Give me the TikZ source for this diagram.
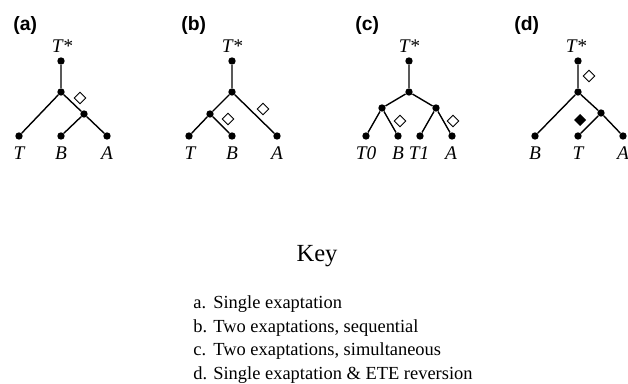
\documentclass[tikz,border=0pt]{standalone}
\usepackage{fontspec}
\setmainfont{Liberation Serif}
\newfontfamily\panelfont{Liberation Sans}
\usetikzlibrary{shapes.geometric}

\tikzset{
  dot/.style={circle,fill=black,inner sep=0pt,minimum size=4.2pt},
  branch/.style={line width=0.8pt},
  gain/.style={diamond,draw,line width=0.5pt,inner sep=0pt,minimum size=6.8pt},
  loss/.style={diamond,fill=black,inner sep=0pt,minimum size=7pt},
  taxon/.style={anchor=base,inner sep=0pt,font=\fontsize{11}{13}\selectfont\itshape},
  panel/.style={anchor=base west,inner sep=0pt,font=\panelfont\bfseries\fontsize{11}{13}\selectfont},
  keyitem/.style={anchor=base west,inner sep=0pt,font=\fontsize{10.5}{12}\selectfont}
}

\begin{document}
\begin{tikzpicture}[x=0.02cm,y=-0.02cm]
    \useasboundingbox (0,0) rectangle (628,384);

    % (a) single exaptation
    \node[panel] (pa) at (13,31) {(a)};
    \node[dot] (a0) at (61,61) {};
    \node[dot] (a1) at (61,92) {};
    \node[dot] (a2) at (84,114) {};
    \node[dot] (aT) at (19,136) {};
    \node[dot] (aB) at (61,136) {};
    \node[dot] (aA) at (107,136) {};
    \draw[branch] (a0)--(a1) (a1)--(aT) (a1)--(a2) (a2)--(aB) (a2)--(aA);
    \node[gain] (ag) at (80,98) {};
    \node[taxon] (aroot) at (62,53) {T*};
    \node[taxon] (aTl) at (19,160) {T};
    \node[taxon] (aBl) at (61,160) {B};
    \node[taxon] (aAl) at (107,160) {A};

    % (b) two exaptations, sequential
    \node[panel] (pb) at (181,31) {(b)};
    \node[dot] (b0) at (232,61) {};
    \node[dot] (b1) at (232,92) {};
    \node[dot] (b2) at (210,114) {};
    \node[dot] (bT) at (189,136) {};
    \node[dot] (bB) at (232,136) {};
    \node[dot] (bA) at (277,136) {};
    \draw[branch] (b0)--(b1) (b1)--(b2) (b1)--(bA) (b2)--(bT) (b2)--(bB);
    \node[gain] (bg1) at (228,119) {};
    \node[gain] (bg2) at (263,109) {};
    \node[taxon] (broot) at (232,53) {T*};
    \node[taxon] (bTl) at (190,160) {T};
    \node[taxon] (bBl) at (232,160) {B};
    \node[taxon] (bAl) at (277,160) {A};

    % (c) two exaptations, simultaneous
    \node[panel] (pc) at (355,31) {(c)};
    \node[dot] (c0) at (409,61) {};
    \node[dot] (c1) at (409,92) {};
    \node[dot] (cL) at (382,108) {};
    \node[dot] (cR) at (436,108) {};
    \node[dot] (cT0) at (366,136) {};
    \node[dot] (cB) at (398,136) {};
    \node[dot] (cT1) at (420,136) {};
    \node[dot] (cA) at (452,136) {};
    \draw[branch] (c0)--(c1) (c1)--(cL) (c1)--(cR)
      (cL)--(cT0) (cL)--(cB) (cR)--(cT1) (cR)--(cA);
    \node[gain] (cg1) at (400,121) {};
    \node[gain] (cg2) at (453,121) {};
    \node[taxon] (croot) at (409,53) {T*};
    \node[taxon] (cT0l) at (366,160) {T0};
    \node[taxon] (cBl) at (398,160) {B};
    \node[taxon] (cT1l) at (419,160) {T1};
    \node[taxon] (cAl) at (451,160) {A};

    % (d) single exaptation & ETE reversion
    \node[panel] (pd) at (514,31) {(d)};
    \node[dot] (d0) at (578,61) {};
    \node[dot] (d1) at (578,92) {};
    \node[dot] (dR) at (601,113) {};
    \node[dot] (dB) at (535,136) {};
    \node[dot] (dT) at (578,136) {};
    \node[dot] (dA) at (623,136) {};
    \draw[branch] (d0)--(d1) (d1)--(dB) (d1)--(dR) (dR)--(dT) (dR)--(dA);
    \node[gain] (dg) at (589,76) {};
    \node[loss] (dl) at (580,120) {};
    \node[taxon] (droot) at (576,53) {T*};
    \node[taxon] (dBl) at (535,160) {B};
    \node[taxon] (dTl) at (578,160) {T};
    \node[taxon] (dAl) at (623,160) {A};

    % key
    \node[anchor=base,inner sep=0pt,font=\fontsize{14}{16}\selectfont] (key) at (317,262) {Key};
    \node[keyitem] (ka) at (193,309) {a.};
    \node[keyitem] (kb) at (193,333) {b.};
    \node[keyitem] (kc) at (193,356) {c.};
    \node[keyitem] (kd) at (193,379) {d.};
    \node[keyitem] (ta) at (213,309) {Single exaptation};
    \node[keyitem] (tb) at (213,333) {Two exaptations, sequential};
    \node[keyitem] (tc) at (213,356) {Two exaptations, simultaneous};
    \node[keyitem] (td) at (213,379) {Single exaptation \& ETE reversion};
\end{tikzpicture}
\end{document}
